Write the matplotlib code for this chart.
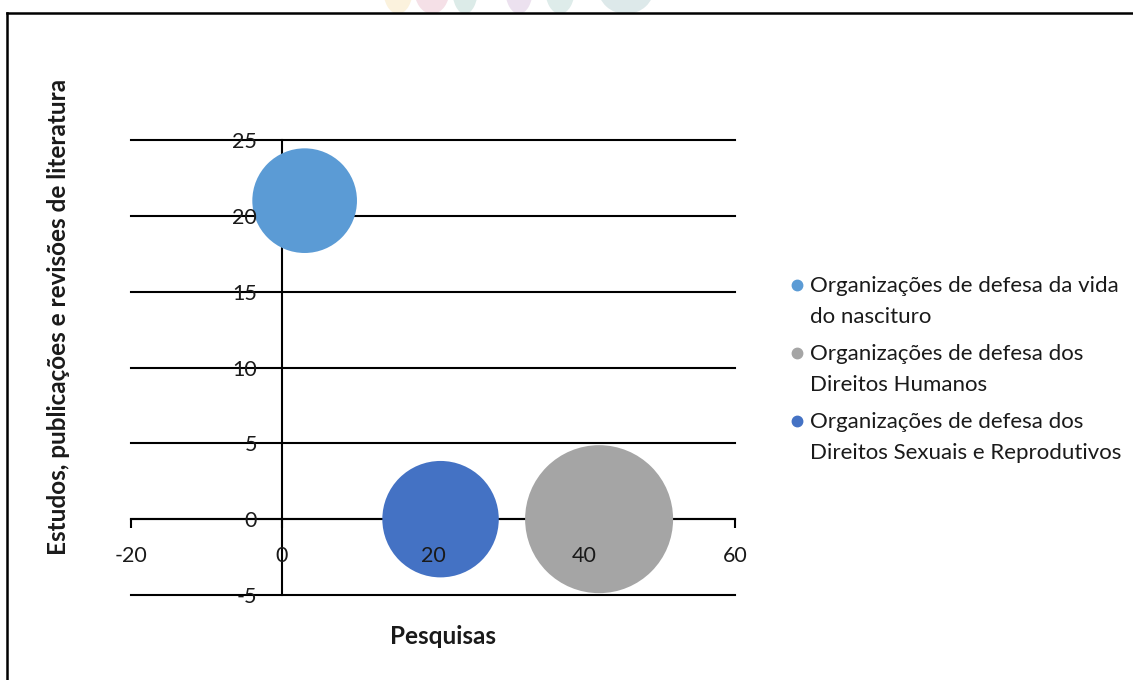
import numpy as np
import matplotlib.pyplot as plt
from matplotlib.lines import Line2D
from matplotlib.patches import Ellipse, Rectangle

plt.rcParams['font.family'] = ['Lato', 'DejaVu Sans']
plt.rcParams['axes.unicode_minus'] = False

# series
names = [
    'Organizações de defesa da vida\ndo nascituro',
    'Organizações de defesa dos\nDireitos Humanos',
    'Organizações de defesa dos\nDireitos Sexuais e Reprodutivos',
]
pesquisas = [3, 42, 21]
estudos = [21, 0, 0]
tamanho = [21, 42, 26]
cores = ['#5B9BD5', '#A5A5A5', '#4472C4']

x_ticks = [-20, 0, 20, 40, 60]
y_ticks = [-5, 0, 5, 10, 15, 20, 25]

W, H, DPI = 1133, 680, 100
txt = '#1a1a1a'

fig = plt.figure(figsize=(W / DPI, H / DPI), dpi=DPI)
ax = fig.add_axes([131 / W, 1 - 595 / H, 604 / W, 455 / H])
ax.set_xlim(x_ticks[0], x_ticks[-1])
ax.set_ylim(y_ticks[0], y_ticks[-1])
ax.set_xticks(x_ticks)
ax.set_yticks(y_ticks)
ax.patch.set_visible(False)
ax.set_axisbelow(True)

# horizontal gridlines
for y in y_ticks:
    ax.axhline(y, color='black', lw=1.5, zorder=0.5, clip_on=False)

for s in ['top', 'right']:
    ax.spines[s].set_visible(False)
ax.spines['left'].set_position(('data', 0))
ax.spines['bottom'].set_position(('data', 0))
for s in ['left', 'bottom']:
    ax.spines[s].set_linewidth(1.5)
    ax.spines[s].set_zorder(0.6)
ax.tick_params(axis='x', direction='out', length=6.5, width=1.5, color='black',
               labelbottom=False)
ax.tick_params(axis='y', length=0, labelleft=False)

# bubbles: area proportional to size, biggest one 74 px in radius
r_px = 74 * np.sqrt(np.array(tamanho) / max(tamanho))
areas = (2 * r_px * 72 / DPI) ** 2
ax.scatter(pesquisas, estudos, s=areas, c=cores, linewidths=0, zorder=2)

# tick labels on an overlay so they sit on top of the bubbles
lab = fig.add_axes(ax.get_position(), sharex=ax, sharey=ax)
lab.set_zorder(ax.get_zorder() + 1)
lab.patch.set_visible(False)
for s in lab.spines.values():
    s.set_visible(False)
lab.spines['left'].set_position(('data', 0))
lab.spines['bottom'].set_position(('data', 0))
lab.tick_params(axis='x', length=0, pad=19, labelsize=15.5, labelcolor=txt)
lab.tick_params(axis='y', length=0, pad=18, labelsize=15.5, labelcolor=txt)

fig.text(443 / W, 1 - 637 / H, 'Pesquisas', ha='center', va='center',
         fontsize=17.5, fontweight='bold', color=txt)
fig.text(59 / W, 1 - 317 / H, 'Estudos, publicações e revisões de literatura',
         ha='center', va='center', rotation=90, fontsize=17.5,
         fontweight='bold', color=txt)

# legend
for i, (nome, cor) in enumerate(zip(names, cores)):
    yc = 285 + i * 68
    fig.add_artist(Line2D([797 / W], [1 - yc / H], transform=fig.transFigure,
                          marker='o', ms=7.5, color=cor, ls='none'))
    fig.text(810 / W, 1 - (yc - 9) / H, nome, ha='left', va='top',
             fontsize=16, color=txt, linespacing=1.68)

# faint logo peeking above the frame
clip = Rectangle((0, 1 - 13 / H), 1, 13 / H, transform=fig.transFigure)
for cx, w, c in [(398, 30, '#fbf2dd'), (432, 36, '#f5e0e7'), (465, 26, '#dcebe8'),
                 (519, 28, '#ece1ef'), (560, 30, '#deecea'), (626, 56, '#dde9ea')]:
    e = Ellipse((cx / W, 1 + 12 / H), w / W, 52 / H, transform=fig.transFigure,
                color=c, lw=0)
    fig.add_artist(e)
    e.set_clip_path(clip)

# frame
fig.add_artist(Line2D([7 / W, 7 / W], [0, 1 - 13 / H], transform=fig.transFigure,
                      color='black', lw=1.8))
fig.add_artist(Line2D([7 / W, 1], [1 - 13 / H, 1 - 13 / H],
                      transform=fig.transFigure, color='black', lw=1.8))

fig.savefig('out.png', dpi=DPI)
